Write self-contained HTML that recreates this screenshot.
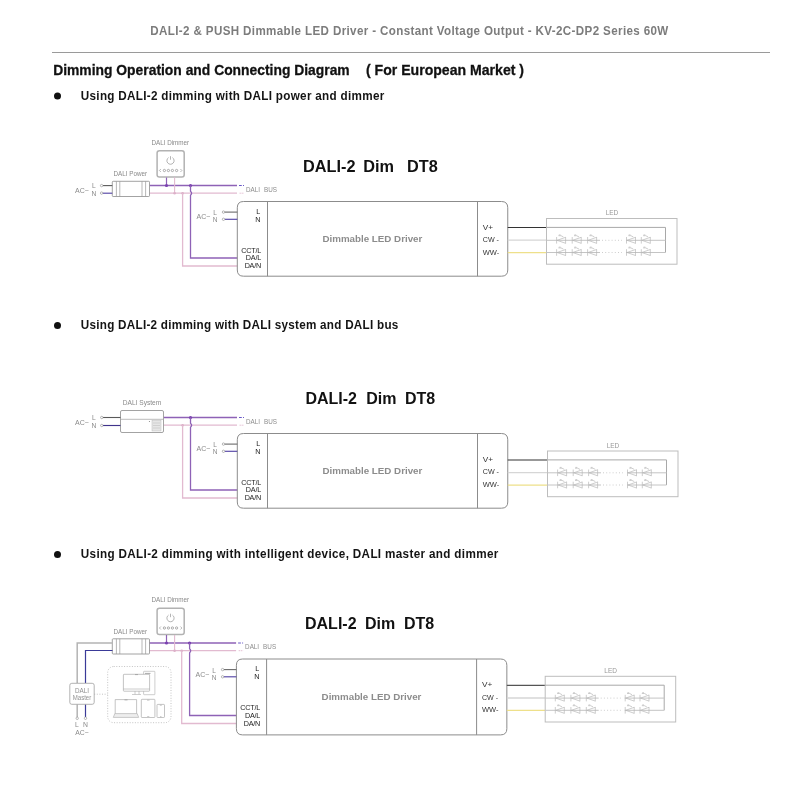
<!DOCTYPE html>
<html><head><meta charset="utf-8"><style>
html,body{margin:0;padding:0;background:#fff;width:800px;height:800px;overflow:hidden}
svg{display:block;will-change:transform}
text{font-family:"Liberation Sans", sans-serif}
</style></head><body>
<svg width="800" height="800" viewBox="0 0 800 800">
<rect width="800" height="800" fill="#fff"/>
<text transform="translate(150.3,35) scale(0.86,1)" font-size="13.5" font-weight="bold" fill="#7c7c7c" textLength="602.3" lengthAdjust="spacing">DALI-2 &amp; PUSH Dimmable LED Driver - Constant Voltage Output - KV-2C-DP2 Series 60W</text><path d="M52 52.5H770" stroke="#9a9a9a" stroke-width="1"/><text x="53.2" y="75" font-size="15.4" font-weight="bold" fill="#111" stroke="#111" stroke-width="0.3" textLength="296.5" lengthAdjust="spacingAndGlyphs">Dimming Operation and Connecting Diagram</text><text x="366" y="75" font-size="15.4" font-weight="bold" fill="#111" stroke="#111" stroke-width="0.3" textLength="158" lengthAdjust="spacingAndGlyphs">( For European Market )</text><circle cx="57.5" cy="96.1" r="3.5" fill="#111"/><text transform="translate(80.8,99.5) scale(0.86,1)" font-size="13.6" font-weight="bold" fill="#141414" textLength="352.91" lengthAdjust="spacing">Using DALI-2 dimming with DALI power and dimmer</text><circle cx="57.5" cy="325.4" r="3.5" fill="#111"/><text transform="translate(80.8,328.75) scale(0.86,1)" font-size="13.6" font-weight="bold" fill="#141414" textLength="369.19" lengthAdjust="spacing">Using DALI-2 dimming with DALI system and DALI bus</text><circle cx="57.5" cy="554.6" r="3.5" fill="#111"/><text transform="translate(80.8,558) scale(0.86,1)" font-size="13.6" font-weight="bold" fill="#141414" textLength="485.47" lengthAdjust="spacing">Using DALI-2 dimming with intelligent device, DALI master and dimmer</text><text x="303" y="171.6" font-size="16.3" font-weight="bold" fill="#111">DALI-2</text><text x="363.3" y="171.6" font-size="16.3" font-weight="bold" fill="#111">Dim</text><text x="407" y="171.6" font-size="16.3" font-weight="bold" fill="#111">DT8</text><text x="305.4" y="403.6" font-size="16" font-weight="bold" fill="#111">DALI-2</text><text x="366.3" y="403.6" font-size="16" font-weight="bold" fill="#111">Dim</text><text x="405" y="403.6" font-size="16" font-weight="bold" fill="#111">DT8</text><text x="305" y="628.6" font-size="16" font-weight="bold" fill="#111">DALI-2</text><text x="365" y="628.6" font-size="16" font-weight="bold" fill="#111">Dim</text><text x="404" y="628.6" font-size="16" font-weight="bold" fill="#111">DT8</text><g transform="translate(0,0)"><path d="M149.5 185.5H237" stroke="#8e62b6" stroke-width="1.3" fill="none"/><path d="M149.5 193.2H237" stroke="#e2bad0" stroke-width="1.3" fill="none"/><g transform="translate(0,0)"><path d="M239 185.5H241.8M243 185.5H244" stroke="#6a5ac8" stroke-width="1" fill="none"/><path d="M239.6 193.2H244" stroke="#e2bad0" stroke-width="1" stroke-dasharray="1.2 0.8" fill="none"/><text x="246" y="191.7" font-size="6.4" fill="#8c8c8c" textLength="14" lengthAdjust="spacingAndGlyphs">DALI</text><text x="264" y="191.7" font-size="6.4" fill="#8c8c8c" textLength="13" lengthAdjust="spacingAndGlyphs">BUS</text><circle cx="190.5" cy="185.5" r="1.6" fill="#7a40b0"/><circle cx="182.6" cy="193.2" r="1.3" fill="#dcb0c8"/><path d="M190.5 185.5V191.2Q192.7 193.2 190.5 195.2V258H237.3" stroke="#8e62b6" stroke-width="1.3" fill="none"/><path d="M182.6 193.2V266H237.3" stroke="#e2bad0" stroke-width="1.3" fill="none"/><path d="M243.5 201.5H501.5Q507.75 201.5 507.75 207.75V270.00Q507.75 276.20 501.5 276.20H243.5Q237.3 276.20 237.3 270.00V207.75Q237.3 201.5 243.5 201.5Z" stroke="#8c8c8c" stroke-width="1" fill="none"/><path d="M267.5 201.5V276.20M477.5 201.5V276.20" stroke="#8c8c8c" stroke-width="1" fill="none"/><text x="260.2" y="213.9" font-size="7.2" fill="#222" text-anchor="end">L</text><text x="260.4" y="221.7" font-size="7.2" fill="#222" text-anchor="end">N</text><text x="261" y="252.8" font-size="7.2" fill="#222" text-anchor="end" letter-spacing="-0.2">CCT/L</text><text x="261" y="260.2" font-size="7.2" fill="#222" text-anchor="end" letter-spacing="-0.2">DA/L</text><text x="261" y="268.1" font-size="7.2" fill="#222" text-anchor="end" letter-spacing="-0.2">DA/N</text><path d="M224.7 212.1H237.3" stroke="#6a6a6a" stroke-width="1.1" fill="none"/><path d="M224.7 219.3H237.3" stroke="#5646a6" stroke-width="1.15" fill="none"/><circle cx="223.5" cy="212.1" r="1.2" stroke="#888" stroke-width="0.6" fill="#fff"/><circle cx="223.5" cy="219.3" r="1.2" stroke="#888" stroke-width="0.6" fill="#fff"/><text x="196.5" y="219" font-size="7" fill="#8a8a8a">AC~</text><text x="215" y="215" font-size="6.5" fill="#8a8a8a" text-anchor="middle">L</text><text x="215" y="222" font-size="6.5" fill="#8a8a8a" text-anchor="middle">N</text><text x="322.5" y="242.2" font-size="9.4" font-weight="bold" fill="#8c8c8c" textLength="99.8" lengthAdjust="spacingAndGlyphs">Dimmable LED Driver</text><text x="482.8" y="229.8" font-size="7.2" fill="#333" textLength="10.3" lengthAdjust="spacingAndGlyphs">V+</text><text x="482.8" y="242.4" font-size="7.2" fill="#333" textLength="16.2" lengthAdjust="spacingAndGlyphs">CW -</text><text x="482.8" y="254.5" font-size="7.2" fill="#333" textLength="16.5" lengthAdjust="spacingAndGlyphs">WW-</text></g><path d="M507.75 227.5H546.5" stroke="#333" stroke-width="1.2" fill="none"/><path d="M507.75 240.2H546.5" stroke="#d6d6d6" stroke-width="1.3" fill="none"/><path d="M507.75 252.6H546.5" stroke="#eee08a" stroke-width="1.3" fill="none"/><g transform="translate(0,0)"><rect x="546.5" y="218.5" width="130.5" height="45.7" stroke="#bdbdbd" stroke-width="1" fill="none"/><text x="612" y="215.3" font-size="6.5" fill="#999" text-anchor="middle">LED</text><path d="M546.5 227.4H665.5V252.5" stroke="#a8a8a8" stroke-width="1" fill="none"/><g stroke="#b8b8b8" stroke-width="0.7" fill="none"><path d="M546.5 240.3H600M626 240.3H665.5M546.5 252.5H600M626 252.5H665.5" stroke="#c4c4c4" stroke-width="1"/><path d="M602 240.3H622M602 252.5H622" stroke-dasharray="1 2.2"/><path d="M556.6 237.0V243.6M565.6 237.0V243.6M565.6 237.3L557.1 240.3L565.6 243.3" /><path d="M558.4 235.7H561.0L563.4 236.9M558.8 234.9H560.6" /><path d="M556.6 249.2V255.8M565.6 249.2V255.8M565.6 249.5L557.1 252.5L565.6 255.5" /><path d="M558.4 247.9H561.0L563.4 249.1M558.8 247.1H560.6" /><path d="M572.2 237.0V243.6M581.2 237.0V243.6M581.2 237.3L572.7 240.3L581.2 243.3" /><path d="M574.0 235.7H576.6L579.0 236.9M574.4 234.9H576.2" /><path d="M572.2 249.2V255.8M581.2 249.2V255.8M581.2 249.5L572.7 252.5L581.2 255.5" /><path d="M574.0 247.9H576.6L579.0 249.1M574.4 247.1H576.2" /><path d="M587.6 237.0V243.6M596.6 237.0V243.6M596.6 237.3L588.1 240.3L596.6 243.3" /><path d="M589.4 235.7H592.0L594.4 236.9M589.8 234.9H591.6" /><path d="M587.6 249.2V255.8M596.6 249.2V255.8M596.6 249.5L588.1 252.5L596.6 255.5" /><path d="M589.4 247.9H592.0L594.4 249.1M589.8 247.1H591.6" /><path d="M626.5 237.0V243.6M635.5 237.0V243.6M635.5 237.3L627.0 240.3L635.5 243.3" /><path d="M628.3 235.7H630.9L633.3 236.9M628.7 234.9H630.5" /><path d="M626.5 249.2V255.8M635.5 249.2V255.8M635.5 249.5L627.0 252.5L635.5 255.5" /><path d="M628.3 247.9H630.9L633.3 249.1M628.7 247.1H630.5" /><path d="M641.3 237.0V243.6M650.3 237.0V243.6M650.3 237.3L641.8 240.3L650.3 243.3" /><path d="M643.1 235.7H645.7L648.1 236.9M643.5 234.9H645.3" /><path d="M641.3 249.2V255.8M650.3 249.2V255.8M650.3 249.5L641.8 252.5L650.3 255.5" /><path d="M643.1 247.9H645.7L648.1 249.1M643.5 247.1H645.3" /></g></g></g><g transform="translate(0,0)"><text x="130.3" y="176" font-size="6.3" fill="#8a8a8a" text-anchor="middle">DALI Power</text><rect x="112.3" y="181.3" width="37.2" height="15.2" rx="0.8" stroke="#8c8c8c" stroke-width="0.8" fill="#fff"/><path d="M116.4 181.3V196.5M119.8 181.3V196.5M142 181.3V196.5M145.6 181.3V196.5" stroke="#9a9a9a" stroke-width="0.7" fill="none"/><text x="170.3" y="144.8" font-size="6.3" fill="#8a8a8a" text-anchor="middle">DALI Dimmer</text><rect x="157.1" y="150.7" width="27.1" height="26.3" rx="2.3" stroke="#b2b2b2" stroke-width="1.5" fill="#fff"/><path d="M168.6 157.6A3.6 3.6 0 1 0 172.4 157.6M170.5 156.2V159.7" stroke="#8c8c8c" stroke-width="0.65" fill="none"/><path d="M160.9 169L159.4 170.5L160.9 172M180.4 169L181.9 170.5L180.4 172" stroke="#8c8c8c" stroke-width="0.6" fill="none"/><circle cx="164.4" cy="170.5" r="1.15" stroke="#8c8c8c" stroke-width="0.7" fill="none"/><circle cx="168.4" cy="170.5" r="1.15" stroke="#8c8c8c" stroke-width="0.7" fill="none"/><circle cx="172.4" cy="170.5" r="1.15" stroke="#8c8c8c" stroke-width="0.7" fill="none"/><circle cx="176.6" cy="170.5" r="1.15" stroke="#8c8c8c" stroke-width="0.7" fill="none"/><path d="M166.5 177.5V185.5" stroke="#8e62b6" stroke-width="1.2" fill="none"/><circle cx="166.5" cy="185.5" r="1.6" fill="#7a40b0"/><path d="M174.6 177.5V193.2" stroke="#e2bad0" stroke-width="1.1" fill="none"/><circle cx="174.6" cy="193.2" r="1.3" fill="#dcb0c8"/><path d="M102.8 185.6H112.3" stroke="#5a5a5a" stroke-width="1.1" fill="none"/><path d="M102.8 193.2H112.3" stroke="#5646a6" stroke-width="1.15" fill="none"/><circle cx="101.6" cy="185.6" r="1.2" stroke="#888" stroke-width="0.6" fill="#fff"/><circle cx="101.6" cy="193.1" r="1.2" stroke="#888" stroke-width="0.6" fill="#fff"/><text x="75" y="192.6" font-size="7" fill="#8a8a8a">AC~</text><text x="93.8" y="187.9" font-size="6.7" fill="#8a8a8a" text-anchor="middle">L</text><text x="94" y="195.6" font-size="6.7" fill="#8a8a8a" text-anchor="middle">N</text></g><g transform="translate(0,232)"><path d="M163.5 185.5H237" stroke="#8e62b6" stroke-width="1.3" fill="none"/><path d="M163.5 193.2H237" stroke="#e2bad0" stroke-width="1.3" fill="none"/><g transform="translate(0,0)"><path d="M239 185.5H241.8M243 185.5H244" stroke="#6a5ac8" stroke-width="1" fill="none"/><path d="M239.6 193.2H244" stroke="#e2bad0" stroke-width="1" stroke-dasharray="1.2 0.8" fill="none"/><text x="246" y="191.7" font-size="6.4" fill="#8c8c8c" textLength="14" lengthAdjust="spacingAndGlyphs">DALI</text><text x="264" y="191.7" font-size="6.4" fill="#8c8c8c" textLength="13" lengthAdjust="spacingAndGlyphs">BUS</text><circle cx="190.5" cy="185.5" r="1.6" fill="#7a40b0"/><circle cx="182.6" cy="193.2" r="1.3" fill="#dcb0c8"/><path d="M190.5 185.5V191.2Q192.7 193.2 190.5 195.2V258H237.3" stroke="#8e62b6" stroke-width="1.3" fill="none"/><path d="M182.6 193.2V266H237.3" stroke="#e2bad0" stroke-width="1.3" fill="none"/><path d="M243.5 201.5H501.5Q507.75 201.5 507.75 207.75V270.00Q507.75 276.20 501.5 276.20H243.5Q237.3 276.20 237.3 270.00V207.75Q237.3 201.5 243.5 201.5Z" stroke="#8c8c8c" stroke-width="1" fill="none"/><path d="M267.5 201.5V276.20M477.5 201.5V276.20" stroke="#8c8c8c" stroke-width="1" fill="none"/><text x="260.2" y="213.9" font-size="7.2" fill="#222" text-anchor="end">L</text><text x="260.4" y="221.7" font-size="7.2" fill="#222" text-anchor="end">N</text><text x="261" y="252.8" font-size="7.2" fill="#222" text-anchor="end" letter-spacing="-0.2">CCT/L</text><text x="261" y="260.2" font-size="7.2" fill="#222" text-anchor="end" letter-spacing="-0.2">DA/L</text><text x="261" y="268.1" font-size="7.2" fill="#222" text-anchor="end" letter-spacing="-0.2">DA/N</text><path d="M224.7 212.1H237.3" stroke="#6a6a6a" stroke-width="1.1" fill="none"/><path d="M224.7 219.3H237.3" stroke="#5646a6" stroke-width="1.15" fill="none"/><circle cx="223.5" cy="212.1" r="1.2" stroke="#888" stroke-width="0.6" fill="#fff"/><circle cx="223.5" cy="219.3" r="1.2" stroke="#888" stroke-width="0.6" fill="#fff"/><text x="196.5" y="219" font-size="7" fill="#8a8a8a">AC~</text><text x="215" y="215" font-size="6.5" fill="#8a8a8a" text-anchor="middle">L</text><text x="215" y="222" font-size="6.5" fill="#8a8a8a" text-anchor="middle">N</text><text x="322.5" y="242.2" font-size="9.4" font-weight="bold" fill="#8c8c8c" textLength="99.8" lengthAdjust="spacingAndGlyphs">Dimmable LED Driver</text><text x="482.8" y="229.8" font-size="7.2" fill="#333" textLength="10.3" lengthAdjust="spacingAndGlyphs">V+</text><text x="482.8" y="242.4" font-size="7.2" fill="#333" textLength="16.2" lengthAdjust="spacingAndGlyphs">CW -</text><text x="482.8" y="254.5" font-size="7.2" fill="#333" textLength="16.5" lengthAdjust="spacingAndGlyphs">WW-</text></g><path d="M507.75 228.0H547.5" stroke="#333" stroke-width="1.2" fill="none"/><path d="M507.75 240.7H547.5" stroke="#d6d6d6" stroke-width="1.3" fill="none"/><path d="M507.75 253.1H547.5" stroke="#eee08a" stroke-width="1.3" fill="none"/><g transform="translate(1.0,0.5)"><rect x="546.5" y="218.5" width="130.5" height="45.7" stroke="#bdbdbd" stroke-width="1" fill="none"/><text x="612" y="215.3" font-size="6.5" fill="#999" text-anchor="middle">LED</text><path d="M546.5 227.4H665.5V252.5" stroke="#a8a8a8" stroke-width="1" fill="none"/><g stroke="#b8b8b8" stroke-width="0.7" fill="none"><path d="M546.5 240.3H600M626 240.3H665.5M546.5 252.5H600M626 252.5H665.5" stroke="#c4c4c4" stroke-width="1"/><path d="M602 240.3H622M602 252.5H622" stroke-dasharray="1 2.2"/><path d="M556.6 237.0V243.6M565.6 237.0V243.6M565.6 237.3L557.1 240.3L565.6 243.3" /><path d="M558.4 235.7H561.0L563.4 236.9M558.8 234.9H560.6" /><path d="M556.6 249.2V255.8M565.6 249.2V255.8M565.6 249.5L557.1 252.5L565.6 255.5" /><path d="M558.4 247.9H561.0L563.4 249.1M558.8 247.1H560.6" /><path d="M572.2 237.0V243.6M581.2 237.0V243.6M581.2 237.3L572.7 240.3L581.2 243.3" /><path d="M574.0 235.7H576.6L579.0 236.9M574.4 234.9H576.2" /><path d="M572.2 249.2V255.8M581.2 249.2V255.8M581.2 249.5L572.7 252.5L581.2 255.5" /><path d="M574.0 247.9H576.6L579.0 249.1M574.4 247.1H576.2" /><path d="M587.6 237.0V243.6M596.6 237.0V243.6M596.6 237.3L588.1 240.3L596.6 243.3" /><path d="M589.4 235.7H592.0L594.4 236.9M589.8 234.9H591.6" /><path d="M587.6 249.2V255.8M596.6 249.2V255.8M596.6 249.5L588.1 252.5L596.6 255.5" /><path d="M589.4 247.9H592.0L594.4 249.1M589.8 247.1H591.6" /><path d="M626.5 237.0V243.6M635.5 237.0V243.6M635.5 237.3L627.0 240.3L635.5 243.3" /><path d="M628.3 235.7H630.9L633.3 236.9M628.7 234.9H630.5" /><path d="M626.5 249.2V255.8M635.5 249.2V255.8M635.5 249.5L627.0 252.5L635.5 255.5" /><path d="M628.3 247.9H630.9L633.3 249.1M628.7 247.1H630.5" /><path d="M641.3 237.0V243.6M650.3 237.0V243.6M650.3 237.3L641.8 240.3L650.3 243.3" /><path d="M643.1 235.7H645.7L648.1 236.9M643.5 234.9H645.3" /><path d="M641.3 249.2V255.8M650.3 249.2V255.8M650.3 249.5L641.8 252.5L650.3 255.5" /><path d="M643.1 247.9H645.7L648.1 249.1M643.5 247.1H645.3" /></g></g></g><g transform="translate(0,0)"><text x="142" y="404.5" font-size="6.6" fill="#8a8a8a" text-anchor="middle">DALI System</text><rect x="120.5" y="410.5" width="43" height="22" rx="1.5" stroke="#999" stroke-width="0.9" fill="#fff"/><path d="M120.5 419.3H163.5" stroke="#aaa" stroke-width="0.8"/><rect x="152" y="420.5" width="9" height="10.5" fill="#e6e6e6" stroke="#bbb" stroke-width="0.5"/><path d="M153 423H160M153 425.5H160M153 428H160" stroke="#bbb" stroke-width="0.5"/><circle cx="149.5" cy="421.5" r="0.6" fill="#888"/><path d="M102.9 417.5H120.5" stroke="#5a5a5a" stroke-width="1.1" fill="none"/><path d="M102.9 425.5H120.5" stroke="#40348c" stroke-width="1.15" fill="none"/><circle cx="101.75" cy="417.5" r="1.2" stroke="#888" stroke-width="0.6" fill="#fff"/><circle cx="101.75" cy="425.5" r="1.2" stroke="#888" stroke-width="0.6" fill="#fff"/><text x="75" y="424.5" font-size="7" fill="#8a8a8a">AC~</text><text x="93.8" y="420.2" font-size="6.7" fill="#8a8a8a" text-anchor="middle">L</text><text x="94" y="427.8" font-size="6.7" fill="#8a8a8a" text-anchor="middle">N</text></g><g transform="translate(0,457.5)"><path d="M148.75 185.5H236.1" stroke="#8e62b6" stroke-width="1.3" fill="none"/><path d="M148.75 193.2H236.1" stroke="#e2bad0" stroke-width="1.3" fill="none"/><g transform="translate(-0.9,0)"><path d="M239 185.5H241.8M243 185.5H244" stroke="#6a5ac8" stroke-width="1" fill="none"/><path d="M239.6 193.2H244" stroke="#e2bad0" stroke-width="1" stroke-dasharray="1.2 0.8" fill="none"/><text x="246" y="191.7" font-size="6.4" fill="#8c8c8c" textLength="14" lengthAdjust="spacingAndGlyphs">DALI</text><text x="264" y="191.7" font-size="6.4" fill="#8c8c8c" textLength="13" lengthAdjust="spacingAndGlyphs">BUS</text><circle cx="190.5" cy="185.5" r="1.6" fill="#7a40b0"/><circle cx="182.6" cy="193.2" r="1.3" fill="#dcb0c8"/><path d="M190.5 185.5V191.2Q192.7 193.2 190.5 195.2V258H237.3" stroke="#8e62b6" stroke-width="1.3" fill="none"/><path d="M182.6 193.2V266H237.3" stroke="#e2bad0" stroke-width="1.3" fill="none"/><path d="M243.5 201.5H501.5Q507.75 201.5 507.75 207.75V271.20Q507.75 277.40 501.5 277.40H243.5Q237.3 277.40 237.3 271.20V207.75Q237.3 201.5 243.5 201.5Z" stroke="#8c8c8c" stroke-width="1" fill="none"/><path d="M267.5 201.5V277.40M477.5 201.5V277.40" stroke="#8c8c8c" stroke-width="1" fill="none"/><text x="260.2" y="213.9" font-size="7.2" fill="#222" text-anchor="end">L</text><text x="260.4" y="221.7" font-size="7.2" fill="#222" text-anchor="end">N</text><text x="261" y="252.8" font-size="7.2" fill="#222" text-anchor="end" letter-spacing="-0.2">CCT/L</text><text x="261" y="260.2" font-size="7.2" fill="#222" text-anchor="end" letter-spacing="-0.2">DA/L</text><text x="261" y="268.1" font-size="7.2" fill="#222" text-anchor="end" letter-spacing="-0.2">DA/N</text><path d="M224.7 212.1H237.3" stroke="#6a6a6a" stroke-width="1.1" fill="none"/><path d="M224.7 219.3H237.3" stroke="#5646a6" stroke-width="1.15" fill="none"/><circle cx="223.5" cy="212.1" r="1.2" stroke="#888" stroke-width="0.6" fill="#fff"/><circle cx="223.5" cy="219.3" r="1.2" stroke="#888" stroke-width="0.6" fill="#fff"/><text x="196.5" y="219" font-size="7" fill="#8a8a8a">AC~</text><text x="215" y="215" font-size="6.5" fill="#8a8a8a" text-anchor="middle">L</text><text x="215" y="222" font-size="6.5" fill="#8a8a8a" text-anchor="middle">N</text><text x="322.5" y="242.2" font-size="9.4" font-weight="bold" fill="#8c8c8c" textLength="99.8" lengthAdjust="spacingAndGlyphs">Dimmable LED Driver</text><text x="482.8" y="229.8" font-size="7.2" fill="#333" textLength="10.3" lengthAdjust="spacingAndGlyphs">V+</text><text x="482.8" y="242.4" font-size="7.2" fill="#333" textLength="16.2" lengthAdjust="spacingAndGlyphs">CW -</text><text x="482.8" y="254.5" font-size="7.2" fill="#333" textLength="16.5" lengthAdjust="spacingAndGlyphs">WW-</text></g><path d="M506.85 227.8H545.2" stroke="#555" stroke-width="1.2" fill="none"/><path d="M506.85 240.5H545.2" stroke="#d6d6d6" stroke-width="1.3" fill="none"/><path d="M506.85 252.9H545.2" stroke="#eee08a" stroke-width="1.3" fill="none"/><g transform="translate(-1.3,0.3)"><rect x="546.5" y="218.5" width="130.5" height="45.7" stroke="#bdbdbd" stroke-width="1" fill="none"/><text x="612" y="215.3" font-size="6.5" fill="#999" text-anchor="middle">LED</text><path d="M546.5 227.4H665.5V252.5" stroke="#a8a8a8" stroke-width="1" fill="none"/><g stroke="#b8b8b8" stroke-width="0.7" fill="none"><path d="M546.5 240.3H600M626 240.3H665.5M546.5 252.5H600M626 252.5H665.5" stroke="#c4c4c4" stroke-width="1"/><path d="M602 240.3H622M602 252.5H622" stroke-dasharray="1 2.2"/><path d="M556.6 237.0V243.6M565.6 237.0V243.6M565.6 237.3L557.1 240.3L565.6 243.3" /><path d="M558.4 235.7H561.0L563.4 236.9M558.8 234.9H560.6" /><path d="M556.6 249.2V255.8M565.6 249.2V255.8M565.6 249.5L557.1 252.5L565.6 255.5" /><path d="M558.4 247.9H561.0L563.4 249.1M558.8 247.1H560.6" /><path d="M572.2 237.0V243.6M581.2 237.0V243.6M581.2 237.3L572.7 240.3L581.2 243.3" /><path d="M574.0 235.7H576.6L579.0 236.9M574.4 234.9H576.2" /><path d="M572.2 249.2V255.8M581.2 249.2V255.8M581.2 249.5L572.7 252.5L581.2 255.5" /><path d="M574.0 247.9H576.6L579.0 249.1M574.4 247.1H576.2" /><path d="M587.6 237.0V243.6M596.6 237.0V243.6M596.6 237.3L588.1 240.3L596.6 243.3" /><path d="M589.4 235.7H592.0L594.4 236.9M589.8 234.9H591.6" /><path d="M587.6 249.2V255.8M596.6 249.2V255.8M596.6 249.5L588.1 252.5L596.6 255.5" /><path d="M589.4 247.9H592.0L594.4 249.1M589.8 247.1H591.6" /><path d="M626.5 237.0V243.6M635.5 237.0V243.6M635.5 237.3L627.0 240.3L635.5 243.3" /><path d="M628.3 235.7H630.9L633.3 236.9M628.7 234.9H630.5" /><path d="M626.5 249.2V255.8M635.5 249.2V255.8M635.5 249.5L627.0 252.5L635.5 255.5" /><path d="M628.3 247.9H630.9L633.3 249.1M628.7 247.1H630.5" /><path d="M641.3 237.0V243.6M650.3 237.0V243.6M650.3 237.3L641.8 240.3L650.3 243.3" /><path d="M643.1 235.7H645.7L648.1 236.9M643.5 234.9H645.3" /><path d="M641.3 249.2V255.8M650.3 249.2V255.8M650.3 249.5L641.8 252.5L650.3 255.5" /><path d="M643.1 247.9H645.7L648.1 249.1M643.5 247.1H645.3" /></g></g></g><g transform="translate(0,457.5)"><text x="130.3" y="176" font-size="6.3" fill="#8a8a8a" text-anchor="middle">DALI Power</text><rect x="112.3" y="181.3" width="37.2" height="15.2" rx="0.8" stroke="#8c8c8c" stroke-width="0.8" fill="#fff"/><path d="M116.4 181.3V196.5M119.8 181.3V196.5M142 181.3V196.5M145.6 181.3V196.5" stroke="#9a9a9a" stroke-width="0.7" fill="none"/><text x="170.3" y="144.8" font-size="6.3" fill="#8a8a8a" text-anchor="middle">DALI Dimmer</text><rect x="157.1" y="150.7" width="27.1" height="26.3" rx="2.3" stroke="#b2b2b2" stroke-width="1.5" fill="#fff"/><path d="M168.6 157.6A3.6 3.6 0 1 0 172.4 157.6M170.5 156.2V159.7" stroke="#8c8c8c" stroke-width="0.65" fill="none"/><path d="M160.9 169L159.4 170.5L160.9 172M180.4 169L181.9 170.5L180.4 172" stroke="#8c8c8c" stroke-width="0.6" fill="none"/><circle cx="164.4" cy="170.5" r="1.15" stroke="#8c8c8c" stroke-width="0.7" fill="none"/><circle cx="168.4" cy="170.5" r="1.15" stroke="#8c8c8c" stroke-width="0.7" fill="none"/><circle cx="172.4" cy="170.5" r="1.15" stroke="#8c8c8c" stroke-width="0.7" fill="none"/><circle cx="176.6" cy="170.5" r="1.15" stroke="#8c8c8c" stroke-width="0.7" fill="none"/><path d="M166.5 177.5V185.5" stroke="#8e62b6" stroke-width="1.2" fill="none"/><circle cx="166.5" cy="185.5" r="1.6" fill="#7a40b0"/><path d="M174.6 177.5V193.2" stroke="#e2bad0" stroke-width="1.1" fill="none"/><circle cx="174.6" cy="193.2" r="1.3" fill="#dcb0c8"/></g><path d="M112.5 643H77.2V683.3M77.2 704.3V717" stroke="#b4b4b4" stroke-width="1.5" fill="none"/><path d="M112.5 650.5H85.5V683.3M85.5 704.3V717" stroke="#3a3a98" stroke-width="1.2" fill="none"/><circle cx="77.2" cy="718.3" r="1.2" stroke="#888" stroke-width="0.6" fill="#fff"/><circle cx="85.5" cy="718.3" r="1.2" stroke="#888" stroke-width="0.6" fill="#fff"/><rect x="69.8" y="683.3" width="24.4" height="21" rx="2" stroke="#a0a0a0" stroke-width="0.8" fill="#fff"/><text x="82" y="692.7" font-size="6.3" fill="#909090" text-anchor="middle">DALI</text><text x="82" y="700" font-size="6.3" fill="#909090" text-anchor="middle" textLength="18.5" lengthAdjust="spacingAndGlyphs">Master</text><text x="76.8" y="726.8" font-size="6.8" fill="#8a8a8a" text-anchor="middle">L</text><text x="85.4" y="726.8" font-size="6.8" fill="#8a8a8a" text-anchor="middle">N</text><text x="82" y="735" font-size="6.8" fill="#8a8a8a" text-anchor="middle">AC~</text><path d="M94.2 694.2H107.7" stroke="#aaa" stroke-width="0.7" stroke-dasharray="1 1.6"/><rect x="107.7" y="666.5" width="63.3" height="56.2" rx="6" stroke="#aaa" stroke-width="0.7" stroke-dasharray="1 1.6" fill="none"/><rect x="143.6" y="671.3" width="11.3" height="23.4" rx="0.6" stroke="#a4a4a4" stroke-width="0.55" fill="#fff"/><path d="M145 673.4H150.5" stroke="#888" stroke-width="0.7"/><rect x="123.4" y="674.3" width="26.2" height="16.9" rx="0.6" stroke="#a4a4a4" stroke-width="0.65" fill="#fff"/><path d="M123.4 689H149.6M135 691.2V694.3M139 691.2V694.3M132 694.5H141" stroke="#a4a4a4" stroke-width="0.55" fill="none"/><path d="M135 674.6H138" stroke="#888" stroke-width="0.6"/><path d="M115.2 713.6V699.6H136.6V713.6" stroke="#a4a4a4" stroke-width="0.65" fill="none"/><path d="M113.3 717.4H138.7L137.2 713.6H114.8Z" stroke="#a4a4a4" stroke-width="0.55" fill="#eee"/><path d="M124.5 699.9H127.5" stroke="#888" stroke-width="0.6"/><rect x="141.3" y="699.3" width="13.6" height="18.2" rx="0.7" stroke="#a4a4a4" stroke-width="0.65" fill="none"/><path d="M147 700.2H149.5M147.2 716.5H149.3" stroke="#999" stroke-width="0.5"/><rect x="157" y="704.4" width="7.5" height="13.1" rx="0.7" stroke="#a4a4a4" stroke-width="0.65" fill="none"/><path d="M159.8 705.3H161.8M160 716.6H161.5" stroke="#999" stroke-width="0.5"/>
</svg>
</body></html>
